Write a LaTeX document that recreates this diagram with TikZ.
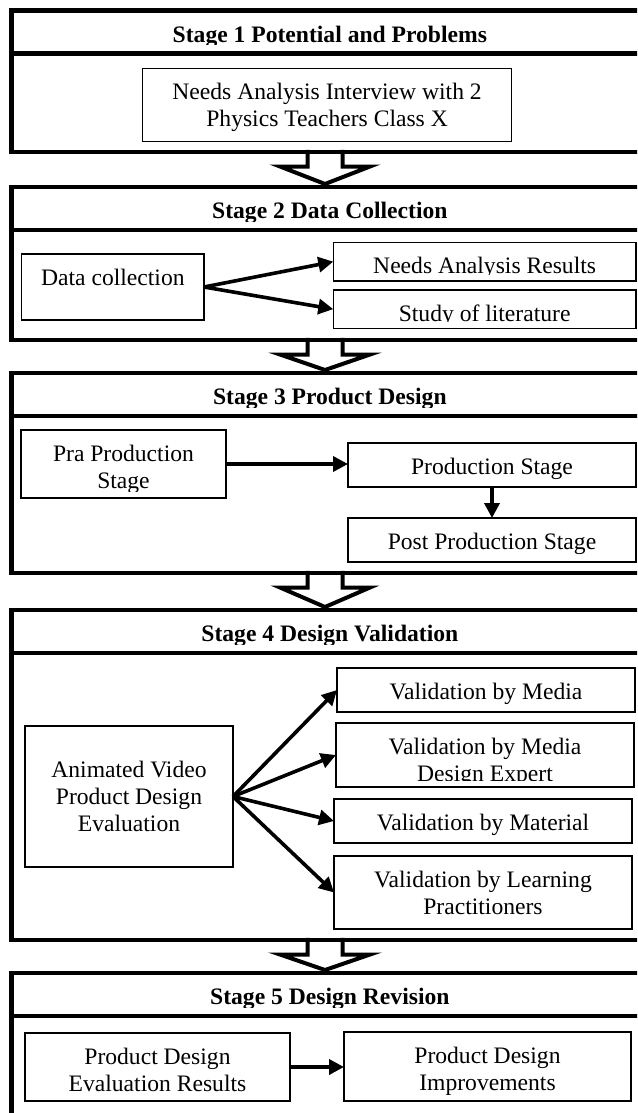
\documentclass[tikz,border=0pt]{standalone}
\usepackage{fontspec}
\setmainfont{Liberation Serif}
\usetikzlibrary{arrows.meta,calc}

\tikzset{
  stage/.style={draw, line width=4.5pt, minimum width=636.3pt, inner sep=0pt, outer sep=0pt},
  bar/.style={line width=4.5pt},
  ibox/.style={draw, line width=1.3pt, inner sep=0pt, outer sep=0pt},
  txt/.style={inner sep=0pt, anchor=base, font=\fontsize{23.6}{27.4}\selectfont},
  ttl/.style={inner sep=0pt, anchor=base, font=\fontsize{23.6}{27.4}\selectfont\bfseries},
  conn/.style={line width=3.6pt, -{Triangle[length=15pt,width=15pt]}},
  hollow/.style={line width=4pt, line join=miter},
}

% text of a box: first baseline #1 below the top edge, clipped a little above the bottom edge
\newcommand\boxtext[3][31]{%
  \begin{scope}
    \clip (#2.north west) rectangle ([yshift=6.5pt]#2.south east);
    \node[txt] (#2-text) at ([yshift=-#1pt]#2.north) {\parbox[t]{380pt}{\centering #3}};
  \end{scope}}

% a stage frame with its title band
\newcommand\stagebox[4]{%
  \node[stage, minimum height={#3-#2}] (#1) at (329.85,{(#2+#3)/2}) {};
  \draw[bar] ([yshift=-43pt]#1.north west) -- ([yshift=-43pt]#1.north east);
  \begin{scope}
    \clip (#1.north west) rectangle ([yshift=-34.2pt]#1.north east);
    \node[ttl] (#1-title) at ([yshift=-31.7pt]#1.north) {#4};
  \end{scope}}

% open block arrow from one stage to the next
\newcommand\blockarrow[3]{%
  \coordinate (#3) at ($(#1.south)+(-4.85,14.5)$);
  \draw[hollow] ($(#3)+(-17.5,-16.75)$) -- ($(#3)+(-17.5,0)$) -- ($(#3)+(-45,0)$)
    -- ($(#2.north)+(-4.85,-3)$) -- ($(#3)+(45,0)$) -- ($(#3)+(17.5,0)$)
    -- ($(#3)+(17.5,-16.75)$);}

\begin{document}
\begin{tikzpicture}[x=1pt,y=-1pt]
\useasboundingbox (0,0) rectangle (637,1113);
\fill[white] (0,0) rectangle (637,1113);
\clip (0,0) rectangle (637,1113);

% stages
\stagebox{s1}{10.5}{152}{Stage 1 Potential and Problems}
\stagebox{s2}{187}{340}{Stage 2 Data Collection}
\stagebox{s3}{373}{573}{Stage 3 Product Design}
\stagebox{s4}{610}{940}{Stage 4 Design Validation}
\stagebox{s5}{973}{1140}{Stage 5 Design Revision}

\blockarrow{s1}{s2}{a12}
\blockarrow{s2}{s3}{a23}
\blockarrow{s3}{s4}{a34}
\blockarrow{s4}{s5}{a45}

% stage 1
\node[ibox, minimum width=369.2pt, minimum height=73.4pt] (needs) at (327.1,105) {};
\boxtext{needs}{Needs Analysis Interview with 2\\Physics Teachers Class X}

% stage 2
\node[ibox, minimum width=182.3pt, minimum height=66pt] (dc) at (112.85,287) {};
\boxtext{dc}{Data collection}
\node[ibox, minimum width=302.7pt, minimum height=38.7pt] (nar) at (484.65,261.65) {};
\boxtext{nar}{Needs Analysis Results}
\node[ibox, minimum width=302.7pt, minimum height=38.3pt] (sol) at (484.65,309.15) {};
\boxtext{sol}{Study of literature}
\draw[conn] (dc.east) -- (nar.west);
\draw[conn] (dc.east) -- (sol.west);

% stage 3
\node[ibox, minimum width=205pt, minimum height=68pt] (pra) at (123.5,464) {};
\boxtext{pra}{Pra Production\\Stage}
\node[ibox, minimum width=288pt, minimum height=44pt] (prod) at (492,465) {};
\boxtext{prod}{Production Stage}
\node[ibox, minimum width=288pt, minimum height=44pt] (post) at (492,540) {};
\boxtext{post}{Post Production Stage}
\draw[conn] (pra.east) -- (pra.east -| prod.west);
\draw[conn] (prod.south) -- (post.north);

% stage 4
\node[ibox, minimum width=208pt, minimum height=141pt] (anim) at (129,796.5) {};
\boxtext[51]{anim}{Animated Video\\Product Design\\Evaluation}
\node[ibox, minimum width=298pt, minimum height=44pt] (vm) at (486,690) {};
\boxtext{vm}{Validation by Media}
\node[ibox, minimum width=298pt, minimum height=64pt] (vmde) at (485,755) {};
\boxtext{vmde}{Validation by Media\\Design Expert}
\node[ibox, minimum width=298pt, minimum height=44pt] (vmat) at (483,821) {};
\boxtext{vmat}{Validation by Material}
\node[ibox, minimum width=298pt, minimum height=73pt] (vlp) at (483,892.5) {};
\boxtext{vlp}{Validation by Learning\\Practitioners}
\draw[conn] (anim.east) -- (vm.west);
\draw[conn] (anim.east) -- (vmde.west);
\draw[conn] (anim.east) -- (vmat.west);
\draw[conn] (anim.east) -- (vlp.west);

% stage 5
\node[ibox, minimum width=265pt, minimum height=68pt] (pder) at (157.5,1067) {};
\boxtext{pder}{Product Design\\Evaluation Results}
\node[ibox, minimum width=287pt, minimum height=69pt] (pdi) at (487.5,1066.5) {};
\boxtext{pdi}{Product Design\\Improvements}
\draw[conn] (pder.east) -- (pder.east -| pdi.west);
\end{tikzpicture}
\end{document}
